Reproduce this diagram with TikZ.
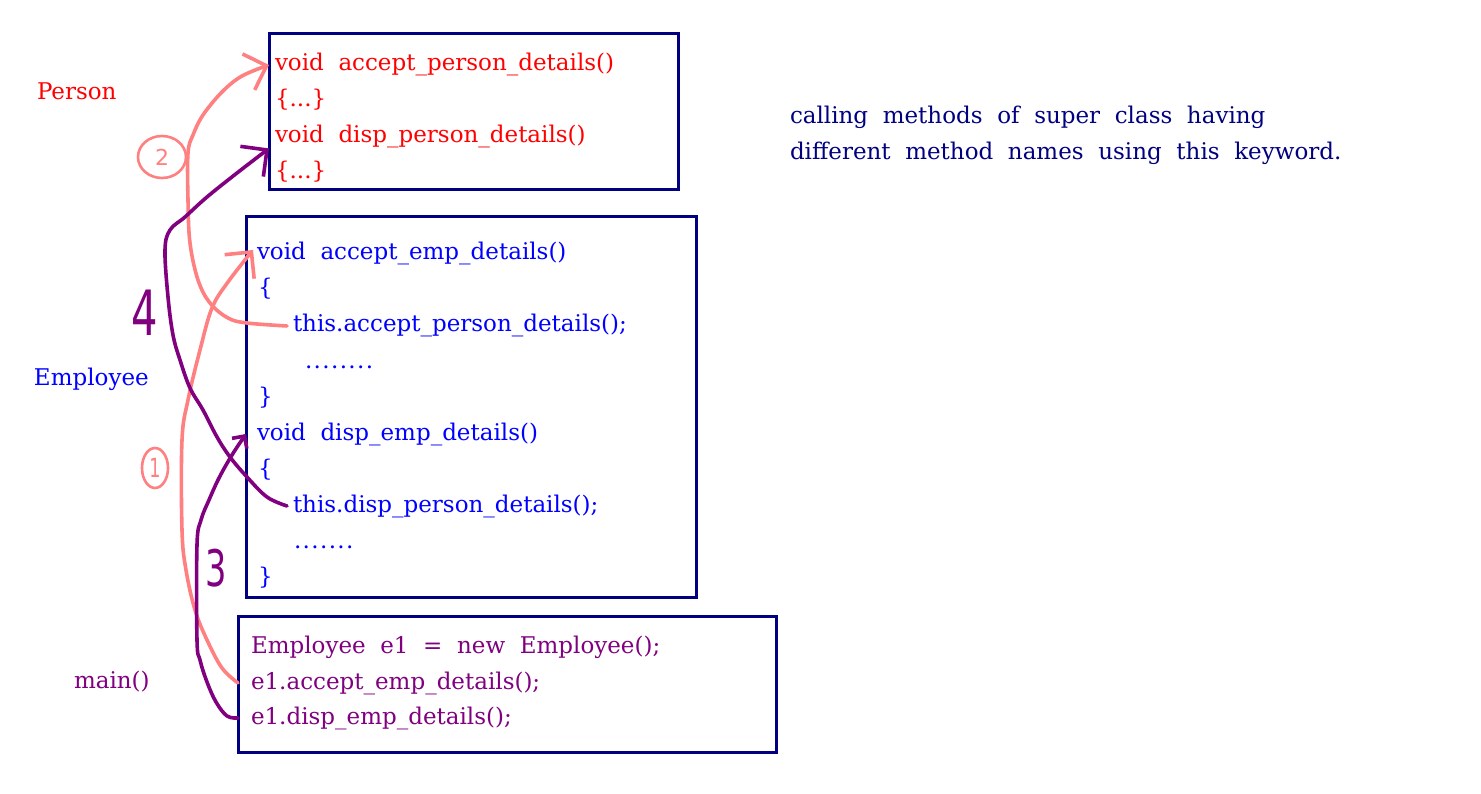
\documentclass[tikz,border=0pt]{standalone}
\usepackage{fontspec}
\usepackage{graphicx}
\setmainfont{DejaVu Serif}[WordSpace=2]
\setsansfont{DejaVu Sans}
\usetikzlibrary{positioning,arrows.meta,shapes.geometric}
\definecolor{navyline}{RGB}{0,0,128}
\definecolor{supred}{RGB}{255,0,0}
\definecolor{subblue}{RGB}{0,0,255}
\definecolor{plum}{RGB}{128,0,128}
\definecolor{salmon}{RGB}{255,128,128}
\newcommand{\dotrow}[1]{{\addfontfeature{LetterSpace=6}#1}}
\newcommand{\tall}[1]{\scalebox{0.8}[1.2]{#1}}
\tikzset{
  cls/.style={draw=navyline, line width=3pt, inner sep=0pt, outer sep=0pt, anchor=north west},
  ln/.style={anchor=base west, inner sep=0pt, outer sep=0pt, text=#1, font=\fontsize{23}{28}\selectfont},
  ln/.default={subblue},
  call/.style={draw=#1, line width=3.6pt, line cap=round, line join=round},
  bigtip/.style={-{Straight Barb[length=19pt,width=38pt]}},
  smalltip/.style={-{Straight Barb[length=9pt,width=18pt]}},
  ring/.style={ellipse, draw=salmon, line width=2.6pt, inner sep=0pt, text=salmon, font=\sffamily\fontsize{22}{22}\selectfont},
  num/.style={inner sep=0pt, text=plum, font=\sffamily\fontsize{#1}{#1}\selectfont},
  num/.default={46}
}

\begin{document}
\begin{tikzpicture}[x=1pt, y=-1pt]
    \fill[white] (0,0) rectangle (1481,794);
    \useasboundingbox (0,0) rectangle (1481,794);

    % class boxes
    \node[cls, minimum width=409pt, minimum height=156pt] (perbox) at (269,34) {};
    \node[cls, minimum width=450pt, minimum height=380pt] (empbox) at (246,217) {};
    \node[cls, minimum width=538pt, minimum height=136pt] (mainbox) at (238,616) {};

    % super class
    \node[ln=supred] (peracc) at (275,71) {void accept\_person\_details()};
    \node[ln=supred] (perbr1) at (275,107) {\{...\}};
    \node[ln=supred] (perdisp) at (275,143) {void disp\_person\_details()};
    \node[ln=supred] (perbr2) at (275,179) {\{...\}};

    % sub class
    \node[ln] (empacc) at (257,260) {void accept\_emp\_details()};
    \node[ln] (empopen1) at (258,296) {\{};
    \node[ln] (empthis1) at (293,332) {this.accept\_person\_details();};
    \node[ln] (empdots1) at (305,368) {\dotrow{........}};
    \node[ln] (empclose1) at (258,404) {\}};
    \node[ln] (empdisp) at (257,440) {void disp\_emp\_details()};
    \node[ln] (empopen2) at (258,476) {\{};
    \node[ln] (empthis2) at (293,512) {this.disp\_person\_details();};
    \node[ln] (empdots2) at (294,548) {\dotrow{.......}};
    \node[ln] (empclose2) at (258,584) {\}};

    % main
    \node[ln=plum] (mainnew) at (251,653) {Employee e1 = new Employee();};
    \node[ln=plum] (mainacc) at (251,689) {e1.accept\_emp\_details();};
    \node[ln=plum] (maindisp) at (251,724) {e1.disp\_emp\_details();};

    % side labels
    \node[ln=supred] (lblper) at (37,100) {Person};
    \node[ln] (lblemp) at (34,385) {Employee};
    \node[ln=plum] (lblmain) at (74,688) {main()};

    \node[ln=navyline] (note1) at (790,124) {calling methods of super class having};
    \node[ln=navyline] (note2) at (790,160) {different method names using this keyword.};

    % hand drawn calls
    \draw[call=salmon, bigtip] plot[smooth, tension=0.6] coordinates {(mainbox.west |- mainacc.west) (222,668) (207,640) (195,610) (186,570) (182,530) (182,440) (188,400) (200,350) (212,308) (228,282) ([xshift=-4pt, yshift=4pt]empacc.west)};
    \draw[call=salmon, bigtip] plot[smooth, tension=0.6] coordinates {([xshift=-6pt]empthis1.west) (247,323) (228,318) (210,303) (198,280) (190,243) (188,200) (188,153) (193,135) (203,115) (222,92) (242,76) (perbox.west |- peracc.west)};
    \draw[call=plum, smalltip] plot[smooth, tension=0.6] coordinates {(mainbox.west |- maindisp.west) (227,716) (216,702) (207,682) (200,660) (197,640) (197,545) (201,520) (209,500) (219,478) (232,455) (empbox.west |- empdisp.west)};
    \draw[call=plum, bigtip] plot[smooth, tension=0.6] coordinates {([xshift=-6pt]empthis2.west) (267,497) (247,477) (230,457) (217,437) (203,410) (190,388) (180,360) (173,335) (168,297) (165,250) (170,230) (185,217) (207,197) (237,173) (perbox.west |- perdisp.south)};

    % step numbers
    \node[ring, minimum width=48pt, minimum height=42pt] (steptwo) at (162,157) {2};
    \node[ring, minimum width=26pt, minimum height=40pt] (stepone) at (155,468) {\tall{1}};
    \node[num=52] (stepfour) at (145,313) {\tall{4}};
    \node[num=42] (stepthree) at (216,568) {\tall{3}};
\end{tikzpicture}
\end{document}
